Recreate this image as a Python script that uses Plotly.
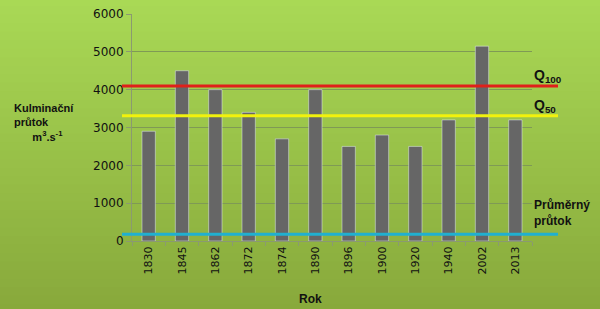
import plotly.graph_objects as go

years = ["1830", "1845", "1862", "1872", "1874", "1890", "1896", "1900", "1920", "1940", "2002", "2013"]
flows = [2900, 4500, 4000, 3400, 2700, 4000, 2500, 2800, 2500, 3200, 5150, 3200]
q100 = 4100
q50 = 3310
q_mean = 180
y_ticks = [0, 1000, 2000, 3000, 4000, 5000, 6000]

fig = go.Figure()
fig.add_trace(go.Bar(x=years, y=flows, marker_color="#666666", width=0.4, showlegend=False))

shapes = []
# gradient background
n = 40
top = (170, 218, 86)
bot = (134, 166, 58)
for i in range(n):
    t = i / (n - 1)
    c = tuple(int(round(top[k] + (bot[k] - top[k]) * t)) for k in range(3))
    shapes.append(dict(type="rect", xref="paper", yref="paper", x0=-0.4, x1=1.2,
                       y0=1.1 - (i + 1) * (1.5 / n) - 0.01, y1=1.1 - i * (1.5 / n) + 0.01,
                       fillcolor="rgb(%d,%d,%d)" % c, line=dict(width=0), layer="below"))
for val, col in [(q100, "#e0201a"), (q50, "#f2f20c"), (q_mean, "#20b0d0")]:
    shapes.append(dict(type="line", xref="paper", yref="y", x0=-0.025, x1=1.065, y0=val, y1=val,
                       line=dict(color=col, width=3), layer="above"))
fig.update_layout(shapes=shapes)

lab_font = dict(family="Liberation Sans, Arial", size=12, color="#111111")
q_font = dict(family="Liberation Sans, Arial", size=14, color="#111111")
fig.add_annotation(xref="paper", yref="y", x=1.0, y=q100, xanchor="left", yanchor="bottom",
                   text="<b>Q<sub>100</sub></b>", showarrow=False, font=q_font, yshift=-1)
fig.add_annotation(xref="paper", yref="y", x=1.0, y=q50, xanchor="left", yanchor="bottom",
                   text="<b>Q<sub>50</sub></b>", showarrow=False, font=q_font, yshift=-1)
fig.add_annotation(xref="paper", yref="paper", x=1.0, y=0.123, xanchor="left", yanchor="middle",
                   text="<b>Průměrný<br>průtok</b>", showarrow=False, align="left", font=lab_font)
fig.add_annotation(xref="paper", yref="paper", x=-0.3, y=0.52, xanchor="left", yanchor="middle",
                   text="<b>Kulminační<br>průtok<br>      m<sup>3</sup>.s<sup>-1</sup></b>", showarrow=False,
                   align="left", font=dict(family="Liberation Sans, Arial", size=11, color="#111"))
fig.add_annotation(xref="paper", yref="paper", x=0.445, y=-0.215, xanchor="center", yanchor="top",
                   text="<b>Rok</b>", showarrow=False, font=lab_font)

fig.update_layout(
    width=600, height=309,
    margin=dict(l=132, r=68, t=14, b=68),
    paper_bgcolor="#98bc48",
    plot_bgcolor="rgba(0,0,0,0)",
    xaxis=dict(showgrid=False, showline=True, linecolor="#8a9a70", linewidth=1, automargin=False,
               tickangle=-90, tickfont=dict(family="DejaVu Sans", size=11, color="#111"),
               ticks="outside", ticklen=4, tickcolor="#8a9a70", tickson="boundaries"),
    yaxis=dict(range=[0, 6000], tickvals=y_ticks, showgrid=True, gridcolor="#7f9a55", gridwidth=1,
               showline=True, linecolor="#8a9a70", ticks="outside", ticklen=5, tickcolor="#8a9a70",
               automargin=False,
               tickfont=dict(family="DejaVu Sans", size=12, color="#111"), zeroline=False),
)

fig.write_html("out.html")
